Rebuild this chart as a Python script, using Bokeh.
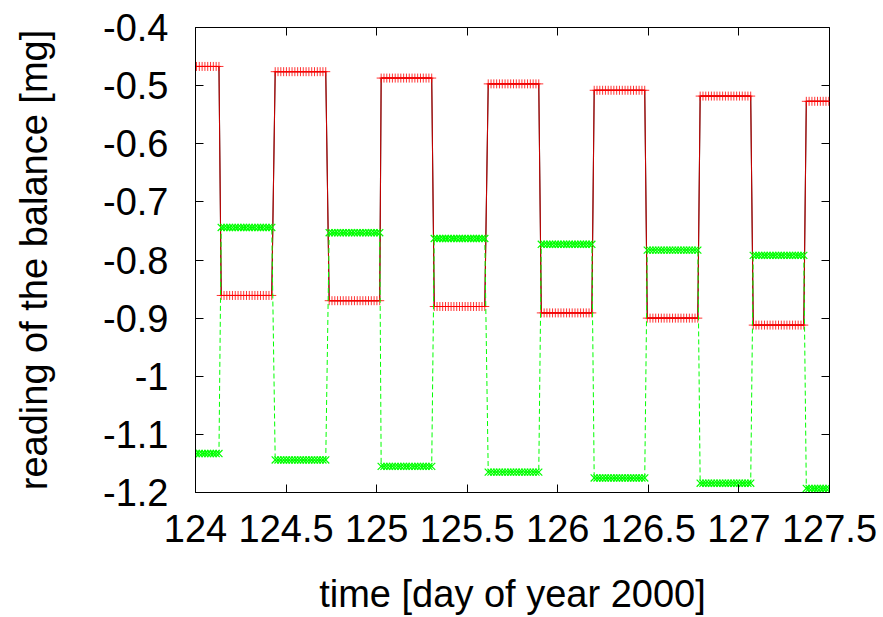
import numpy as np
from bokeh.plotting import figure
from bokeh.models import FixedTicker, LinearAxis, Range1d, ColumnDataSource
from bokeh.embed import file_html
from bokeh.resources import INLINE

# ---- data ----
# times (day of year 2000) at which the balance switches between the two states
switch_times = [124.0, 124.138, 124.436, 124.734, 125.021, 125.314, 125.612,
                125.905, 126.197, 126.490, 126.782, 127.075, 127.368, 127.5]
# plateau level of each interval (mg)
red_levels = [-0.467, -0.861, -0.476, -0.870, -0.487, -0.880, -0.497,
              -0.891, -0.508, -0.900, -0.518, -0.912, -0.527]
green_levels = [-1.133, -0.744, -1.144, -0.753, -1.155, -0.763, -1.165,
                -0.773, -1.175, -0.783, -1.184, -0.792, -1.193]
sample_step = 0.0155  # days between two readings of the balance

x_ticks = [124.0, 124.5, 125.0, 125.5, 126.0, 126.5, 127.0, 127.5]
x_tick_labels = ["124", "124.5", "125", "125.5", "126", "126.5", "127", "127.5"]
y_ticks = [-1.2, -1.1, -1.0, -0.9, -0.8, -0.7, -0.6, -0.5, -0.4]
y_tick_labels = ["-1.2", "-1.1", "-1", "-0.9", "-0.8", "-0.7", "-0.6", "-0.5", "-0.4"]

# ---- build readings ----
t_all, red_all, green_all = [], [], []
for i in range(len(red_levels)):
    start = switch_times[i] + (0.004 if i > 0 else -0.01)
    ts = np.arange(start, switch_times[i + 1], sample_step)
    t_all.extend(ts.tolist())
    red_all.extend([red_levels[i]] * len(ts))
    green_all.extend([green_levels[i]] * len(ts))

src = ColumnDataSource(dict(t=t_all, red=red_all, green=green_all))

FONT = "Liberation Sans"

p = figure(width=883, height=617, output_backend="svg", toolbar_location=None,
           x_range=Range1d(124, 127.5), y_range=Range1d(-1.2, -0.4),
           min_border_left=195, min_border_right=54, min_border_top=27,
           min_border_bottom=125, background_fill_color="white",
           border_fill_color="white")
p.grid.visible = False
p.outline_line_color = "black"
p.outline_line_width = 1

# black underlying trace
p.line("t", "red", source=src, line_color="black", line_width=1.1)
# red trace
p.line("t", "red", source=src, line_color="#ff0000", line_width=1, line_alpha=0.8)
p.scatter("t", "red", source=src, marker="cross", size=9, line_color="#ff0000",
          line_width=1, line_alpha=0.8)
# green trace
p.line("t", "green", source=src, line_color="#00ff00", line_width=1, line_dash="5 3")
p.scatter("t", "green", source=src, marker="x", size=10, line_color="#00ff00",
          line_width=1.2)

# axes
xa = p.xaxis[0]
xa.ticker = FixedTicker(ticks=x_ticks)
xa.major_label_overrides = {k: v for k, v in zip(x_ticks, x_tick_labels)}
ya = p.yaxis[0]
ya.ticker = FixedTicker(ticks=y_ticks)
ya.major_label_overrides = {k: v for k, v in zip(y_ticks, y_tick_labels)}

for ax in (xa, ya):
    ax.major_tick_in = 8
    ax.major_tick_out = 0
    ax.minor_tick_line_color = None
    ax.axis_line_color = "black"
    ax.major_tick_line_color = "black"
    ax.major_label_text_font = FONT
    ax.major_label_text_font_size = "38px"
    ax.major_label_text_color = "black"
    ax.axis_label_text_font = FONT
    ax.axis_label_text_font_size = "38px"
    ax.axis_label_text_font_style = "normal"
    ax.axis_label_text_color = "black"

xa.axis_label = "time [day of year 2000]"
xa.major_label_standoff = 22
xa.axis_label_standoff = 28
ya.axis_label = "reading of the balance [mg]"
ya.major_label_standoff = 27
ya.axis_label_standoff = 45

# mirrored ticks on top and right (labels not drawn)
ra = LinearAxis(ticker=FixedTicker(ticks=y_ticks))
ta = LinearAxis(ticker=FixedTicker(ticks=x_ticks))
for ax in (ra, ta):
    ax.major_tick_in = 8
    ax.major_tick_out = 0
    ax.minor_tick_line_color = None
    ax.axis_line_color = None
    ax.major_tick_line_color = "black"
    ax.major_label_text_font_size = "1px"
    ax.major_label_text_color = None
    ax.major_label_standoff = 0
p.add_layout(ra, "right")
p.add_layout(ta, "above")

open("out.html", "w").write(file_html(p, INLINE))
